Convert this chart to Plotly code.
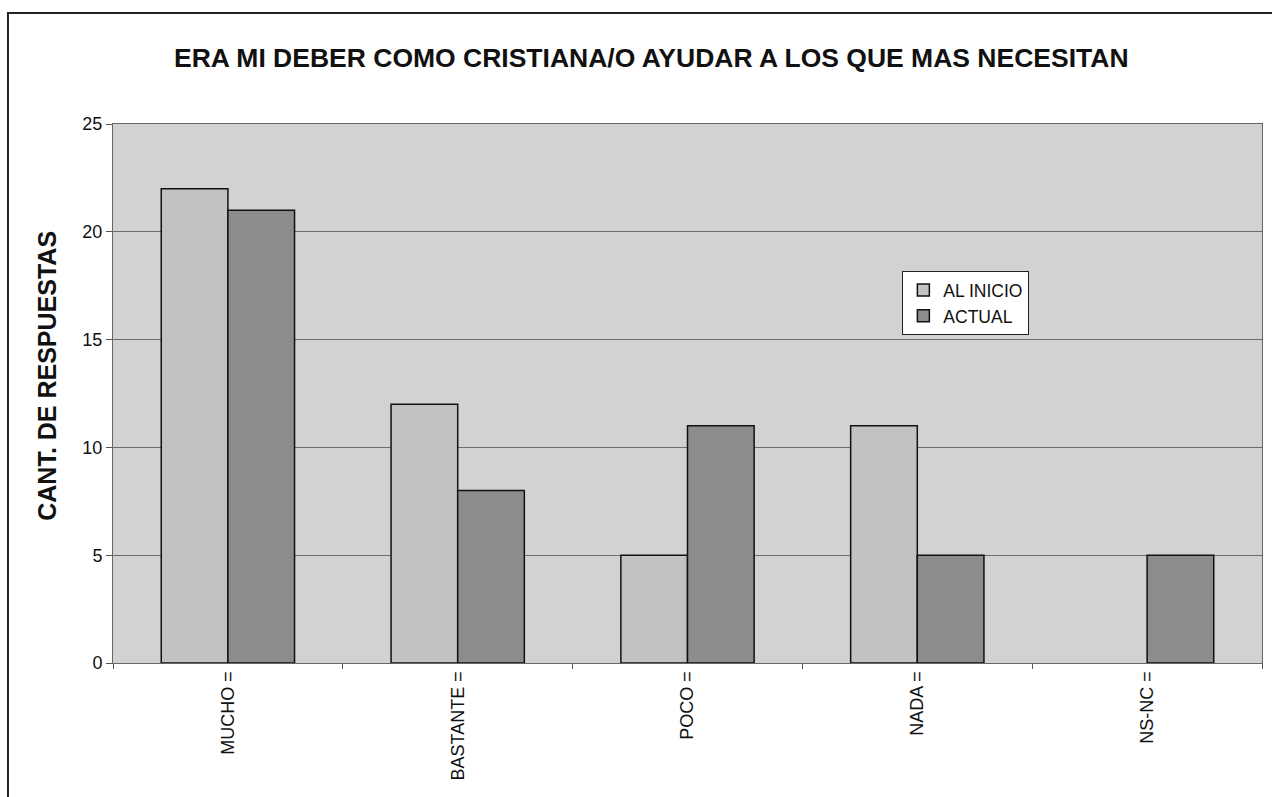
import plotly.graph_objects as go

categories = ["MUCHO =", "BASTANTE =", "POCO =", "NADA =", "NS-NC ="]
al_inicio = [22, 12, 5, 11, 0]
actual = [21, 8, 11, 5, 5]
series_names = ["AL INICIO", "ACTUAL"]
y_ticks = [0, 5, 10, 15, 20, 25]

font_family = "Liberation Sans, Arial, sans-serif"


def outline_widths(values, width=1.5):
    # zero-height bars get no outline so they stay invisible
    return [width if v > 0 else 0 for v in values]


fig = go.Figure()
fig.add_trace(go.Bar(
    x=categories, y=al_inicio, name=series_names[0],
    marker=dict(color="#c2c2c2",
                line=dict(color="#111111", width=outline_widths(al_inicio))),
))
fig.add_trace(go.Bar(
    x=categories, y=actual, name=series_names[1],
    marker=dict(color="#8c8c8c",
                line=dict(color="#111111", width=outline_widths(actual))),
))

fig.update_layout(
    width=1272, height=797,
    margin=dict(l=113, r=10, t=124, b=134),
    paper_bgcolor="white",
    plot_bgcolor="#d2d2d2",
    barmode="group",
    bargap=0.42,
    bargroupgap=0,
    font=dict(family=font_family, color="#111111"),
    title=dict(
        text="<b>ERA MI DEBER COMO CRISTIANA/O AYUDAR A LOS QUE MAS NECESITAN</b>",
        x=0.512, xanchor="center", y=0.927, yanchor="middle",
        font=dict(size=26.5, family=font_family, color="#111111"),
    ),
    legend=dict(
        x=0.687, y=0.727, xanchor="left", yanchor="top",
        bgcolor="white", bordercolor="#222222", borderwidth=1,
        font=dict(size=17.5, family=font_family, color="#111111"),
        traceorder="normal", itemwidth=30,
    ),
    showlegend=True,
)

fig.update_xaxes(
    type="category",
    tickangle=-90,
    tickfont=dict(size=18, family=font_family, color="#111111"),
    ticks="outside", ticklen=5, tickcolor="#555555",
    tickson="boundaries",
    showline=True, linecolor="#666666", linewidth=1, mirror=True,
    showgrid=False,
)
fig.update_yaxes(
    range=[0, 25],
    tickvals=y_ticks,
    tickfont=dict(size=18, family=font_family, color="#111111"),
    ticks="outside", ticklen=6, tickcolor="#555555",
    showline=True, linecolor="#666666", linewidth=1, mirror=True,
    showgrid=True, gridcolor="#6e6e6e", gridwidth=1,
    zeroline=False,
)

# Y-axis title, placed slightly above the plot's vertical centre
fig.add_annotation(
    text="<b>CANT. DE RESPUESTAS</b>",
    xref="paper", yref="paper", x=-0.057, y=0.532,
    xanchor="center", yanchor="middle", textangle=-90, showarrow=False,
    font=dict(size=25, family=font_family, color="#111111"),
)

# Outer chart frame
fig.add_shape(
    type="rect", xref="paper", yref="paper",
    x0=-0.0914, x1=1.02, y0=-0.3, y1=1.206,
    line=dict(color="#222222", width=2), layer="below",
)

fig.write_html("out.html")
